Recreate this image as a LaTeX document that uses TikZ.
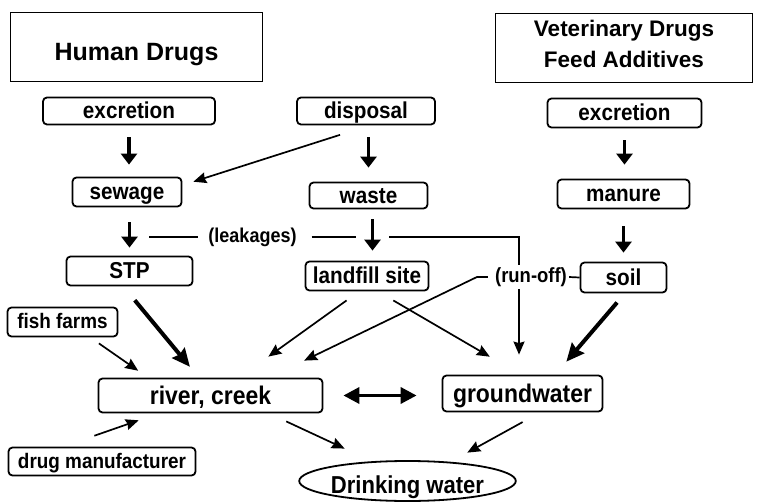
\documentclass[tikz,border=0pt]{standalone}
\usepackage{fontspec}
\setmainfont{Liberation Sans}
\newfontfamily\boxfont[FakeStretch=0.9]{Liberation Sans}
\usetikzlibrary{arrows.meta,shapes.geometric,calc}

\begin{document}
\begin{tikzpicture}[x=1pt, y=-1pt]
        \tikzset{
            srcbox/.style = {rectangle, line width=1.4pt, draw=black, align=center, inner sep=0pt},
            stepbox/.style = {rectangle, rounded corners=4pt, line width=1.8pt, draw=black, inner sep=0pt, text height=16.5pt, text depth=1.3pt, font=\boxfont\bfseries\fontsize{23}{26}\selectfont},
            smallbox/.style = {stepbox, text height=15pt, text depth=1pt, font=\boxfont\bfseries\fontsize{21}{24}\selectfont},
            waterbox/.style = {stepbox, text height=18.5pt, text depth=0.5pt, font=\boxfont\bfseries\fontsize{25.5}{28}\selectfont},
            tag/.style = {inner sep=2pt, font=\boxfont\bfseries\fontsize{20.5}{22}\selectfont},
            leakline/.style = {line width=1.7pt},
            arrow/.style = {line width=1.7pt, -{Stealth[length=13pt, width=11pt, inset=1.5pt]}},
            fatarrow/.style = {line width=3.5pt, -{Triangle[length=11pt, width=16pt]}},
            bigarrow/.style = {line width=4pt, -{Stealth[length=18pt, width=16pt, inset=2pt]}}
        }
        \useasboundingbox (0,0) rectangle (757,502);

        % sources
        \node (human) [srcbox, minimum width=252pt, minimum height=69pt, text height=27.5pt, text depth=0pt, font=\bfseries\fontsize{25}{30}\selectfont] at (136.5,47) {Human Drugs};
        \node (vet) [srcbox, minimum width=257pt, minimum height=69pt, text depth=7.5pt, font=\bfseries\fontsize{22.5}{31}\selectfont] at (624,48) {Veterinary Drugs\\Feed Additives};

        \node (excL) [stepbox, minimum width=172pt, minimum height=27pt] at (129,111) {excretion};
        \node (disp) [stepbox, minimum width=138pt, minimum height=27pt] at (366,111) {disposal};
        \node (excR) [stepbox, minimum width=154pt, minimum height=29pt] at (624.5,113) {excretion};

        \node (sewage) [stepbox, minimum width=109pt, minimum height=29pt] at (127,192) {sewage};
        \node (waste) [stepbox, minimum width=118pt, minimum height=26pt] at (368.5,195.5) {waste};
        \node (manure) [stepbox, minimum width=132pt, minimum height=29pt] at (623.5,194) {manure};

        \node (stp) [stepbox, minimum width=126pt, minimum height=29pt] at (129.5,271) {STP};
        \node (landfill) [stepbox, minimum width=123pt, minimum height=29pt] at (367,276) {landfill site};
        \node (soil) [stepbox, minimum width=86pt, minimum height=30pt] at (623.5,277.5) {soil};

        \node (fish) [smallbox, minimum width=110pt, minimum height=29pt] at (62.5,322) {fish farms};
        \node (drug) [smallbox, minimum width=187pt, minimum height=28pt] at (102,461.5) {drug manufacturer};

        % water bodies
        \node (river) [waterbox, minimum width=224pt, minimum height=34pt] at (210.5,395.5) {river, creek};
        \node (ground) [waterbox, minimum width=160pt, minimum height=36pt] at (522.5,393.5) {groundwater};
        \node (drink) [ellipse, draw=black, line width=1.8pt, minimum width=214pt, minimum height=40pt, inner sep=0pt, text height=24pt, text depth=0pt, font=\boxfont\bfseries\fontsize{24.5}{26}\selectfont] at (407.5,481) {Drinking water};

        \node (leak) [tag, font=\boxfont\bfseries\fontsize{20}{22}\selectfont] at (252.5,237) {(leakages)};
        \node (runoff) [tag] at (531,277) {(run-off)};

        \coordinate (lkA) at (149,237);
        \coordinate (lkB) at (356,237);
        \coordinate (lkC) at (389,237);
        \coordinate (lkD) at (519,237);

        % vertical chains
        \draw [fatarrow, shorten <=12pt, shorten >=12pt] (excL.south) -- (excL.south |- sewage.north);
        \draw [fatarrow, shorten <=12pt, shorten >=14pt] (disp.south -| waste.north) -- (waste.north);
        \draw [fatarrow, shorten <=12pt, shorten >=14pt] (excR.south) -- (excR.south |- manure.north);
        \draw [fatarrow, shorten <=15pt, shorten >=8pt] (stp.north |- sewage.south) -- (stp.north);
        \draw [fatarrow, shorten <=10pt, shorten >=10pt] ($(waste.south)+(4,0)$) -- ($(waste.south |- landfill.north)+(4,0)$);
        \draw [fatarrow, shorten <=17pt, shorten >=9pt] (manure.south) -- (manure.south |- soil.north);

        \draw [arrow, shorten <=31pt, shorten >=11.5pt] (disp.284) -- (sewage.7);

        % leakages and run-off
        \draw [leakline, shorten >=8pt] (lkA) -- (leak.west);
        \draw [leakline, shorten <=13pt] (leak.east) -- (lkB);
        \draw [leakline] (lkC) -- (lkD) -- (lkD |- runoff.north);
        \draw [arrow, shorten >=20pt] (lkD |- runoff.south) -- (lkD |- ground.north);
        \draw [leakline] (runoff.east) -- (soil.west);
        \draw [arrow, shorten <=5pt, shorten >=39pt] (runoff.west) -- ++(-16,0) -- (river.17);

        % into river and groundwater
        \draw [bigarrow, shorten <=18pt, shorten >=14pt] (stp.248) -- (river.123);
        \draw [arrow, shorten <=10.5pt, shorten >=12pt] (fish.331) -- (river.164);
        \draw [arrow, shorten <=33pt, shorten >=21pt] (drug.159) -- (river.199);
        \draw [arrow, shorten <=15.5pt, shorten >=36pt] (landfill.243) -- (river.32);
        \draw [arrow, shorten <=18pt, shorten >=35.5pt] (landfill.305) -- (ground.96);
        \draw [bigarrow, shorten <=12pt, shorten >=17pt] (soil.275) -- (ground.30);
        \draw [line width=3.5pt, {Triangle[length=16pt, width=16pt]}-{Triangle[length=16pt, width=16pt]}, shorten <=20pt, shorten >=25pt] (river.east) -- (river.east -| ground.west);

        % drinking water
        \draw [arrow, shorten <=19pt, shorten >=30pt] (river.343) -- (drink.151);
        \draw [arrow, shorten <=20pt, shorten >=19pt] (ground.313) -- (drink.24);

    \end{tikzpicture}
\end{document}
